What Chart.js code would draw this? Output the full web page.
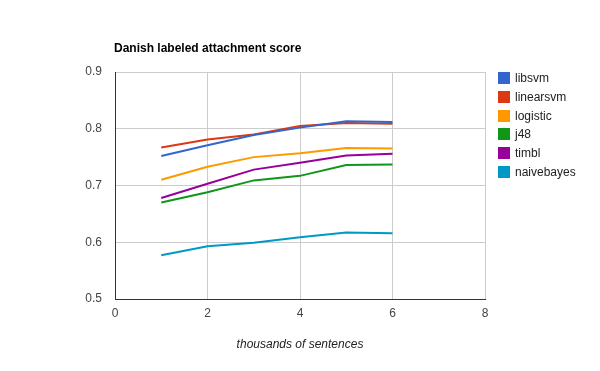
<!DOCTYPE html>
<html>
<head>
<meta charset="utf-8">
<script src="https://cdn.jsdelivr.net/npm/chart.js@4"></script>
<style>
  body { margin: 0; background: #fff; }
  canvas { display: block; }
</style>
</head>
<body>
<canvas id="chart" width="600" height="371"></canvas>
<script>
// thousands of sentences
const xs = [1, 2, 3, 4, 5, 6];
const seriesNames = ['libsvm', 'linearsvm', 'logistic', 'j48', 'timbl', 'naivebayes'];
const libsvm     = [0.752, 0.771, 0.789, 0.802, 0.813, 0.812];
const linearsvm  = [0.767, 0.781, 0.790, 0.805, 0.810, 0.809];
const logistic   = [0.710, 0.733, 0.750, 0.757, 0.766, 0.765];
const j48        = [0.670, 0.688, 0.709, 0.717, 0.736, 0.737];
const timbl      = [0.678, 0.703, 0.728, 0.740, 0.753, 0.756];
const naivebayes = [0.577, 0.593, 0.599, 0.609, 0.617, 0.616];
const xTicks = [0, 2, 4, 6, 8];
const yTicks = [0.5, 0.6, 0.7, 0.8, 0.9];

const colors = ['#3366cc', '#dc3912', '#ff9900', '#109618', '#990099', '#0099c6'];
const allSeries = [libsvm, linearsvm, logistic, j48, timbl, naivebayes];

Chart.defaults.font.family = '"Liberation Sans", Arial, sans-serif';
Chart.defaults.font.size = 12;

// title + legend, google charts style
const extras = {
  id: 'extras',
  afterDraw(chart) {
    const ctx = chart.ctx;
    ctx.save();
    ctx.fillStyle = '#000';
    ctx.font = 'bold 12px "Liberation Sans", Arial, sans-serif';
    ctx.textBaseline = 'alphabetic';
    ctx.textAlign = 'left';
    ctx.fillText('Danish labeled attachment score', 114, 52);

    ctx.font = '12px "Liberation Sans", Arial, sans-serif';
    ctx.textBaseline = 'middle';
    chart.data.datasets.forEach((ds, i) => {
      const top = 72 + i * 18.8;
      ctx.fillStyle = ds.borderColor;
      ctx.fillRect(498, Math.round(top), 12, 12);
      ctx.fillStyle = '#222';
      ctx.fillText(ds.label, 515, Math.round(top) + 6.5);
    });
    ctx.restore();
  }
};

const ctx = document.getElementById('chart').getContext('2d');
new Chart(ctx, {
  type: 'line',
  data: {
    datasets: seriesNames.map((name, i) => ({
      label: name,
      data: xs.map((x, j) => ({ x: x, y: allSeries[i][j] })),
      borderColor: colors[i],
      backgroundColor: colors[i],
      borderWidth: 2,
      pointRadius: 0,
      tension: 0,
      fill: false
    }))
  },
  options: {
    responsive: false,
    animation: false,
    layout: { padding: { left: 0, top: 72, right: 115, bottom: 0 } },
    plugins: {
      legend: { display: false },
      tooltip: { enabled: false }
    },
    scales: {
      x: {
        type: 'linear',
        min: 0,
        max: 8,
        afterBuildTicks: s => { s.ticks = xTicks.map(v => ({ value: v })); },
        afterFit: s => { s.height = 72; },
        ticks: { color: '#444', padding: 7 },
        grid: { color: '#cccccc', drawTicks: false },
        border: { color: '#333', width: 1 },
        title: {
          display: true,
          text: 'thousands of sentences',
          color: '#222',
          font: { style: 'italic', size: 12 },
          padding: { top: 0, bottom: 19 }
        }
      },
      y: {
        min: 0.5,
        max: 0.9,
        afterBuildTicks: s => { s.ticks = yTicks.map(v => ({ value: v })); },
        afterFit: s => { s.width = 115; },
        ticks: { color: '#444', padding: 13, callback: v => v.toFixed(1) },
        grid: { color: '#cccccc', drawTicks: false },
        border: { color: '#333', width: 1 }
      }
    }
  },
  plugins: [extras]
});
</script>
</body>
</html>
